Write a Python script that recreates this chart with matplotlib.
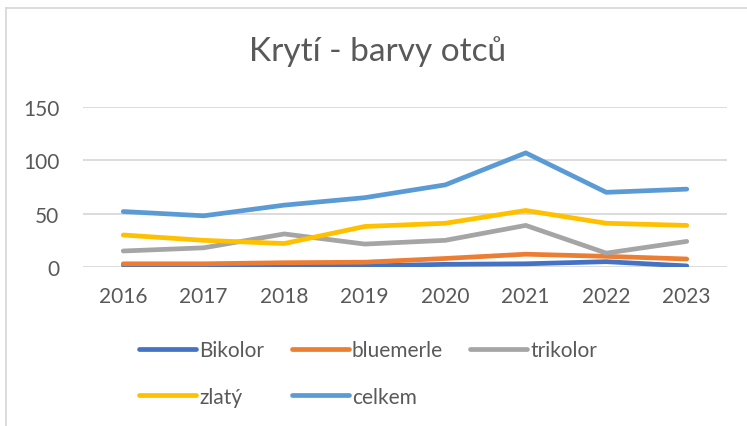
import matplotlib.pyplot as plt
from matplotlib.lines import Line2D

years = ['2016', '2017', '2018', '2019', '2020', '2021', '2022', '2023']
bikolor = [2, 1, 0.5, 1, 2.5, 3, 5, 1]
bluemerle = [3, 3, 4, 4.5, 8, 12, 10, 7.5]
trikolor = [15, 18, 31, 21.5, 25, 39, 13, 24]
zlaty = [30, 25, 22, 38, 41, 53, 41, 39]
celkem = [52, 48, 58, 65, 77, 107, 70, 73]

names = ['Bikolor', 'bluemerle', 'trikolor', 'zlatý', 'celkem']
series = [bikolor, bluemerle, trikolor, zlaty, celkem]
colors = ['#4472C4', '#ED7D31', '#A5A5A5', '#FFC000', '#5B9BD5']

plt.rcParams['font.family'] = ['Lato', 'DejaVu Sans']
text_col = '#595959'

fig = plt.figure(figsize=(7.47, 4.27), dpi=100)
ax = fig.add_axes([83 / 747, 1 - 268 / 427, 644 / 747, 160 / 427])

x = range(len(years))
handles = []
for name, vals, c in zip(names, series, colors):
    h, = ax.plot(x, vals, color=c, lw=3.4, solid_capstyle='round',
                 solid_joinstyle='round', label=name)
    handles.append(h)

ax.set_xlim(-0.5, len(years) - 0.5)
ax.set_ylim(0, 150)
ax.set_yticks([0, 50, 100, 150])
ax.set_xticks(list(x))
ax.set_xticklabels(years)
ax.yaxis.grid(True, color='#D9D9D9', lw=1.3)
ax.set_axisbelow(True)
for s in ax.spines.values():
    s.set_visible(False)
ax.tick_params(axis='both', length=0, labelsize=15, colors=text_col)
ax.tick_params(axis='y', pad=17)
ax.tick_params(axis='x', pad=14)

fig.text(378 / 747, 1 - 52 / 427, 'Krytí - barvy otců', ha='center', va='center',
         fontsize=24, color=text_col)

# legend row-wise: reorder for column filling
order = [0, 3, 1, 4, 2]
fig.legend([handles[i] for i in order], [names[i] for i in order],
           ncol=3, loc='upper left', bbox_to_anchor=(139 / 747, 1 - 341 / 427),
           bbox_transform=fig.transFigure, frameon=False, fontsize=15,
           handlelength=2.75, handletextpad=0.15, columnspacing=1.3,
           labelspacing=1.28, borderpad=0, borderaxespad=0, labelcolor=text_col)

# chart border (left and top edges visible)
fig.add_artist(Line2D([5.5 / 747, 5.5 / 747], [0, 1 - 8.5 / 427], color='#D9D9D9',
                      lw=1.3, transform=fig.transFigure))
fig.add_artist(Line2D([5.5 / 747, 1], [1 - 8.5 / 427, 1 - 8.5 / 427], color='#D9D9D9',
                      lw=1.3, transform=fig.transFigure))

fig.savefig('out.png', dpi=100)
